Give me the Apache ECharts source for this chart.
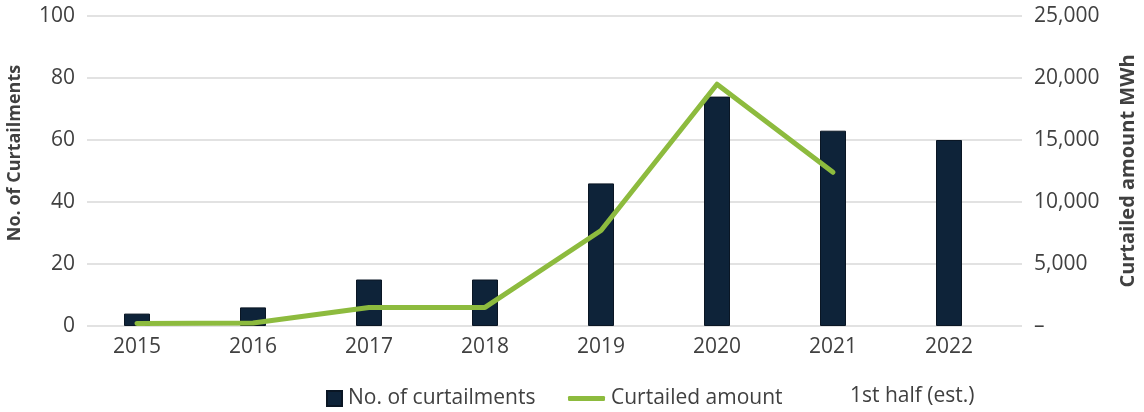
<!DOCTYPE html>
<html>
<head>
<meta charset="utf-8">
<script src="https://cdn.jsdelivr.net/npm/echarts@6/dist/echarts.min.js"></script>
<style>
  html, body { margin: 0; padding: 0; background: #ffffff; }
  #chart { width: 1144px; height: 412px; }
</style>
</head>
<body>
<div id="chart"></div>
<script>
// Yearly curtailment statistics
const years = ['2015', '2016', '2017', '2018', '2019', '2020', '2021', '2022'];
const curtailmentCounts = [4, 6, 15, 15, 46, 74, 63, 60];
const curtailedMWh = [200, 250, 1500, 1500, 7700, 19500, 12400, null];

const countTicks = { min: 0, max: 100, interval: 20 };
const mwhTicks = { min: 0, max: 25000, interval: 5000 };

const TEXT = '#404040';
const NAVY = '#0e2339';
const GREEN = '#8dbb3e';
const FONT = '"Open Sans", "Noto Sans", sans-serif';

const chart = echarts.init(document.getElementById('chart'));

chart.setOption({
  animation: false,
  textStyle: { fontFamily: FONT },
  grid: [
    // grid 0 carries the category axis and the series
    { left: 79, right: 137, top: 16, bottom: 86 },
    // grid 1 carries the visible value axes and horizontal gridlines
    { left: 87, right: 122, top: 16, bottom: 86 }
  ],
  xAxis: [
    {
      type: 'category',
      gridIndex: 0,
      data: years,
      axisLine: { show: false },
      axisTick: { show: false },
      axisLabel: { color: TEXT, fontSize: 21, margin: 11, fontFamily: FONT }
    },
    { type: 'value', gridIndex: 1, min: 0, max: 1, show: false }
  ],
  yAxis: [
    { type: 'value', gridIndex: 0, ...countTicks, show: false },
    { type: 'value', gridIndex: 0, ...mwhTicks, show: false },
    {
      type: 'value',
      gridIndex: 1,
      position: 'left',
      ...countTicks,
      axisLine: { show: false },
      axisTick: { show: false },
      splitLine: { show: true, lineStyle: { color: '#d9d9d9', width: 1.5 } },
      axisLabel: { color: TEXT, fontSize: 21, margin: 12, fontFamily: FONT }
    },
    {
      type: 'value',
      gridIndex: 1,
      position: 'right',
      ...mwhTicks,
      axisLine: { show: false },
      axisTick: { show: false },
      splitLine: { show: false },
      axisLabel: {
        color: TEXT, fontSize: 21, margin: 12, fontFamily: FONT,
        formatter: v => (v === 0 ? '–' : v.toLocaleString('en-US'))
      }
    }
  ],
  legend: [
    {
      data: ['No. of curtailments'],
      left: 321, top: 383,
      itemWidth: 15, itemHeight: 15,
      icon: 'rect',
      textStyle: { color: TEXT, fontSize: 21, fontFamily: FONT, padding: [0, 0, 0, 1] }
    },
    {
      data: [{ name: 'Curtailed amount', icon: 'roundRect', itemStyle: { color: GREEN } }],
      left: 563, top: 383,
      itemWidth: 37, itemHeight: 5,
      textStyle: { color: TEXT, fontSize: 21, fontFamily: FONT, padding: [0, 0, 0, 1] }
    }
  ],
  graphic: [
    {
      type: 'text', x: 15, y: 153, rotation: Math.PI / 2,
      style: {
        text: 'No. of Curtailments', fill: TEXT, font: 'bold 18px ' + FONT,
        textAlign: 'center', textVerticalAlign: 'middle'
      }
    },
    {
      type: 'text', x: 1128, y: 171, rotation: Math.PI / 2,
      style: {
        text: 'Curtailed amount MWh', fill: TEXT, font: 'bold 20px ' + FONT,
        textAlign: 'center', textVerticalAlign: 'middle'
      }
    },
    {
      type: 'text', x: 850, y: 396,
      style: {
        text: '1st half (est.)', fill: TEXT, font: '21px ' + FONT,
        textAlign: 'left', textVerticalAlign: 'middle'
      }
    }
  ],
  series: [
    {
      name: 'No. of curtailments',
      type: 'bar',
      xAxisIndex: 0,
      yAxisIndex: 0,
      data: curtailmentCounts,
      barWidth: 26,
      itemStyle: { color: NAVY, borderColor: '#0a1624', borderWidth: 1 }
    },
    {
      name: 'Curtailed amount',
      type: 'line',
      xAxisIndex: 0,
      yAxisIndex: 1,
      data: curtailedMWh,
      showSymbol: false,
      symbol: 'none',
      lineStyle: { color: GREEN, width: 5, cap: 'round', join: 'round' },
      itemStyle: { color: GREEN },
      z: 3
    }
  ]
});
</script>
</body>
</html>
